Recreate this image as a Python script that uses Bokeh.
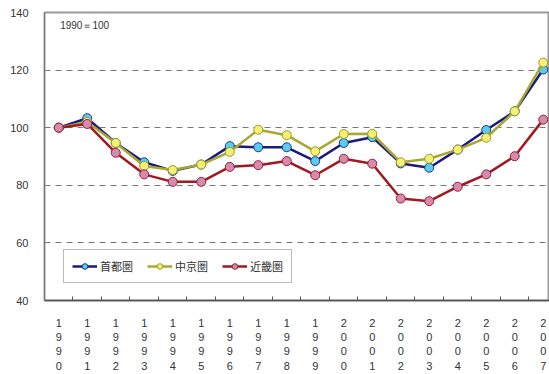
from bokeh.plotting import figure
from bokeh.models import FixedTicker, Range1d, Legend, LegendItem, Label
from bokeh.embed import file_html
from bokeh.resources import INLINE

# Index of land prices by metropolitan area, 1990 = 100
years = [str(y) for y in range(1990, 2008)]
shuto = [100, 103.3, 94.7, 88.0, 85.0, 87.2, 93.6, 93.2, 93.2, 88.4,
         94.7, 96.7, 87.6, 86.1, 92.4, 99.2, 105.7, 120.2]
chukyo = [100, 102.0, 94.7, 86.7, 85.3, 87.2, 91.6, 99.3, 97.4, 91.8,
          97.8, 97.9, 88.0, 89.2, 92.4, 96.5, 105.7, 122.6]
kinki = [100, 101.3, 91.3, 83.8, 81.2, 81.2, 86.4, 87.0, 88.4, 83.5,
         89.2, 87.5, 75.4, 74.5, 79.5, 83.8, 90.1, 102.8]
series_names = ["首都圏", "中京圏", "近畿圏"]
y_ticks = [40, 60, 80, 100, 120, 140]

xs = list(range(len(years)))

p = figure(width=549, height=374, output_backend="svg", toolbar_location=None,
           x_range=Range1d(-0.5, 17.22), y_range=Range1d(40, 140),
           min_border_left=44, min_border_right=0, min_border_top=12,
           min_border_bottom=72)
p.background_fill_color = "white"
p.border_fill_color = "white"
p.outline_line_color = "#9a9a9a"
p.outline_line_width = 2

# axes
p.yaxis.ticker = FixedTicker(ticks=y_ticks)
p.yaxis.major_tick_line_color = None
p.yaxis.minor_tick_line_color = None
p.yaxis.axis_line_color = "#777777"
p.yaxis.major_label_text_font = "Liberation Sans"
p.yaxis.major_label_text_font_size = "11px"
p.yaxis.major_label_text_color = "#333333"
p.yaxis.major_label_standoff = 10

p.xaxis.ticker = FixedTicker(ticks=xs, minor_ticks=[i + 0.5 for i in xs])
p.xaxis.major_label_overrides = {i: "\n".join(y) for i, y in enumerate(years)}
p.xaxis.major_tick_line_color = None
p.xaxis.minor_tick_line_color = "#555555"
p.xaxis.minor_tick_in = 4
p.xaxis.minor_tick_out = 0
p.xaxis.axis_line_color = "#555555"
p.xaxis.axis_line_width = 1.5
p.xaxis.major_label_text_font = "Liberation Sans"
p.xaxis.major_label_text_font_size = "11px"
p.xaxis.major_label_text_color = "#333333"
p.xaxis.major_label_standoff = 10

p.xgrid.grid_line_color = None
p.ygrid.ticker = FixedTicker(ticks=[60, 80, 100, 120])
p.ygrid.grid_line_color = "#777777"
p.ygrid.grid_line_dash = "6 5"
p.ygrid.grid_line_width = 1.2

styles = [
    ("#1a1a80", "#5ccbf0", "#1a3a80"),
    ("#a8a830", "#f4f070", "#9a9a30"),
    ("#a01820", "#d88aaa", "#902040"),
]
items = []
for name, vals, (lc, fc, oc) in zip(series_names, [shuto, chukyo, kinki], styles):
    ln = p.line(xs, vals, line_color=lc, line_width=2.5)
    sc = p.scatter(xs, vals, size=9, fill_color=fc, line_color=oc, line_width=1)
    items.append(LegendItem(label=name, renderers=[ln, sc]))

legend = Legend(items=items, orientation="horizontal", location=(19, 17),
                glyph_width=25, glyph_height=14, label_standoff=3, spacing=14,
                padding=8, margin=0,
                label_text_font="Noto Sans CJK JP", label_text_font_size="11px",
                label_text_color="#333333",
                border_line_color="#777777", border_line_width=1.5,
                background_fill_alpha=1)
p.add_layout(legend, "center")

p.add_layout(Label(x=0.05, y=133.6, text="1990＝100",
                   text_font="Liberation Sans", text_font_size="10px",
                   text_color="#333333", text_baseline="bottom"))

open("out.html", "w").write(file_html(p, INLINE))
